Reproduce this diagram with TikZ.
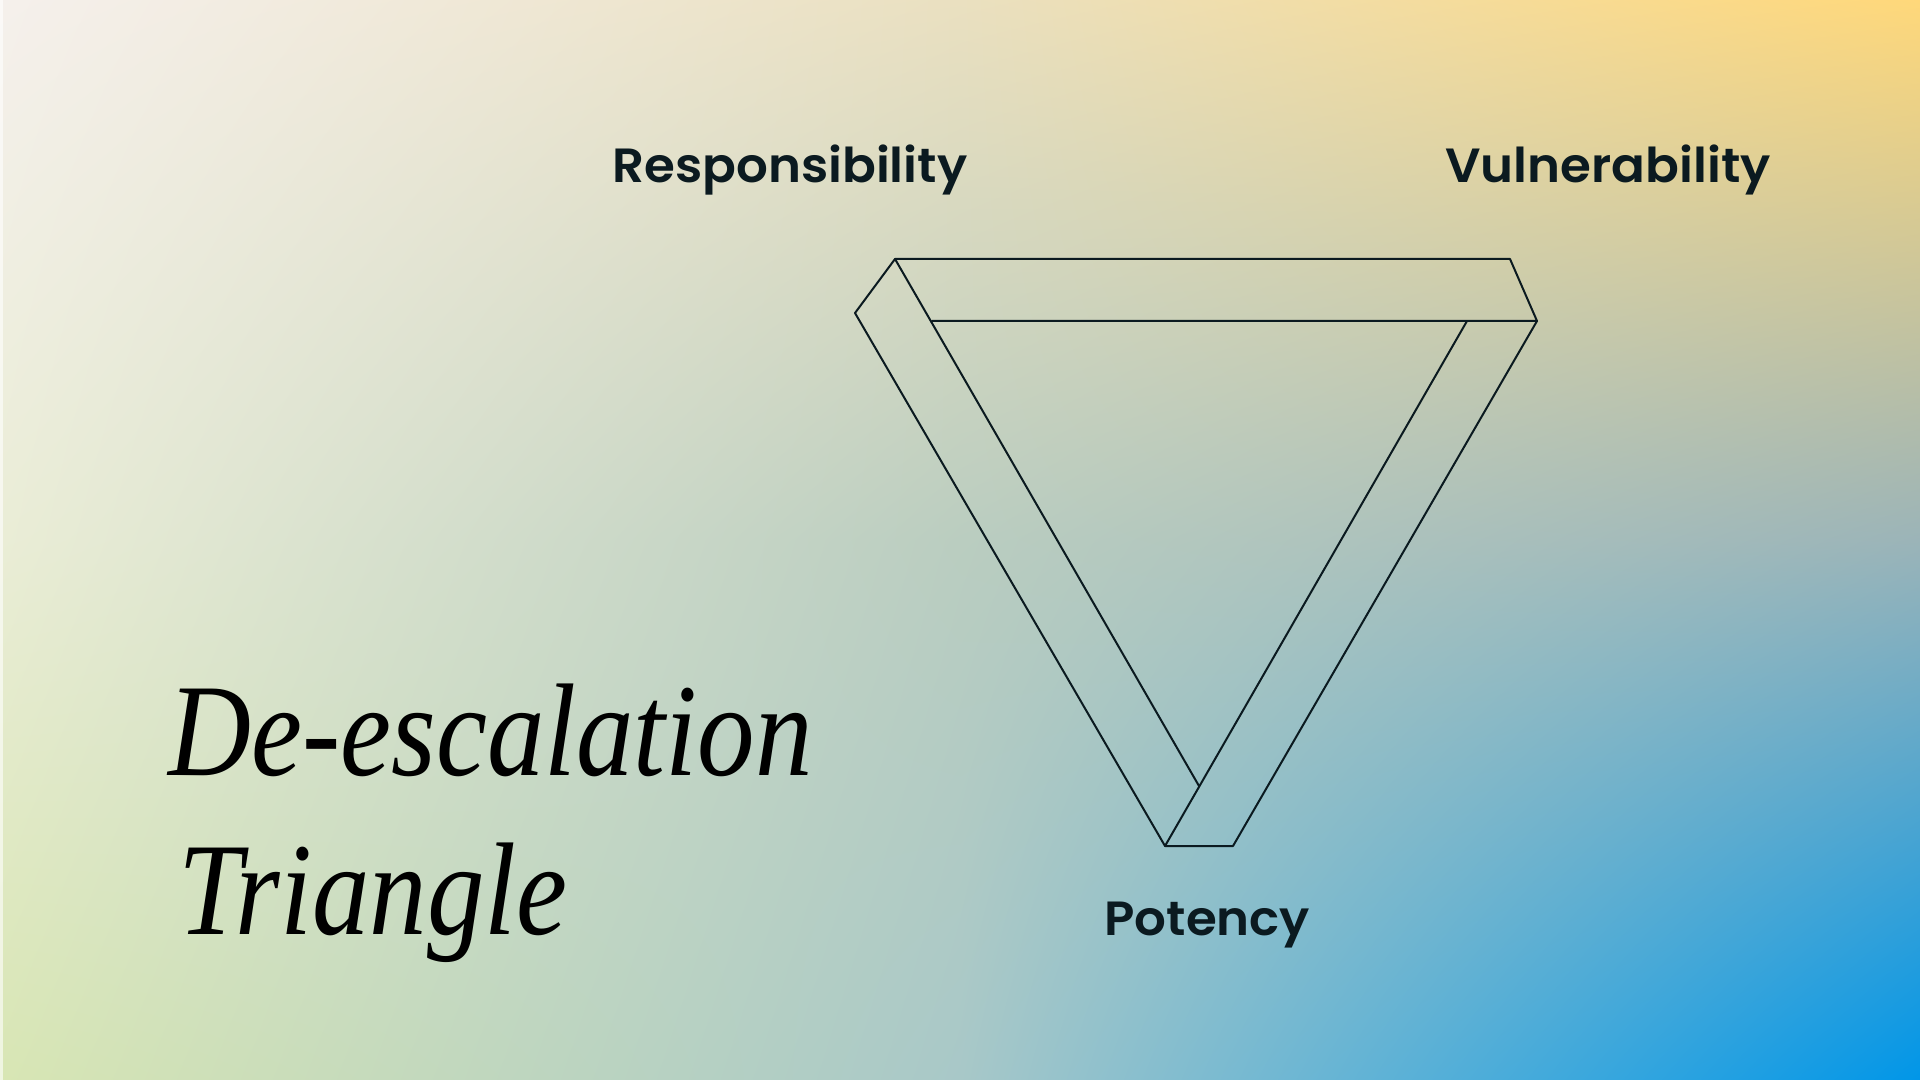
\documentclass[tikz,border=0pt]{standalone}
\usepackage{fontspec}
\setmainfont{Liberation Serif}
\newfontfamily\labelfont{Poppins}[BoldFont={Poppins SemiBold}]
\usetikzlibrary{shadings,fadings}
\definecolor{ink}{HTML}{0B1A20}
% background samples, 3 x 3
\definecolor{bgTL}{RGB}{245,240,236}
\definecolor{bgT}{RGB}{234,224,192}
\definecolor{bgTR}{RGB}{255,216,122}
\definecolor{bgL}{RGB}{234,237,214}
\definecolor{bgC}{RGB}{186,205,192}
\definecolor{bgR}{RGB}{155,180,184}
\definecolor{bgBL}{RGB}{216,230,180}
\definecolor{bgB}{RGB}{168,200,200}
\definecolor{bgBR}{RGB}{0,150,232}
\tikzset{
  edge/.style={draw=ink, line width=1pt, line join=round, line cap=round},
  tag/.style={font=\labelfont\bfseries\fontsize{24}{28}\selectfont, text=ink, inner sep=0pt, anchor=base west, xscale=1.04},
  headline/.style={font=\itshape\fontsize{66}{72}\selectfont, text=black, inner sep=0pt, anchor=base west, xscale=0.87}
}

\begin{document}
\begin{tikzpicture}[x=0.5pt, y=-0.5pt]
        \useasboundingbox (0,0) rectangle (1920,1080);
        % background, four patches
        \shade[upper left=bgTL, upper right=bgT, lower left=bgL, lower right=bgC] (0,0) rectangle (960,540);
        \shade[upper left=bgT, upper right=bgTR, lower left=bgC, lower right=bgR] (960,0) rectangle (1920,540);
        \shade[upper left=bgL, upper right=bgC, lower left=bgBL, lower right=bgB] (0,540) rectangle (960,1080);
        \shade[upper left=bgC, upper right=bgR, lower left=bgB, lower right=bgBR] (960,540) rectangle (1920,1080);
        \fill[white, opacity=0.6] (0,0) rectangle (3,1080);

        % corners of the strip
        \coordinate (topL) at (895,259);
        \coordinate (topR) at (1510,259);
        \coordinate (tipR) at (1537,321);
        \coordinate (tipL) at (855,313);
        \coordinate (innerL) at (932,321);
        \coordinate (innerR) at (1467,321);
        \coordinate (fold) at (1199,786);
        \coordinate (botL) at (1165,846);
        \coordinate (botR) at (1233,846);

        \draw[edge] (topL) -- (topR) -- (tipR) -- (innerL);
        \draw[edge] (topL) -- (tipL) -- (botL) -- (botR) -- (tipR);
        \draw[edge] (topL) -- (fold);
        \draw[edge] (innerR) -- (botL);

        % labels
        \node[tag] (resp) at (612,183) {Responsibility};
        \node[tag] (vuln) at (1445,183) {Vulnerability};
        \node[tag] (pot) at (1104,935) {Potency};

        \node[headline] (title1) at (168,775) {De-escalation};
        \node[headline] (title2) at (178,934) {Triangle};
    \end{tikzpicture}
\end{document}
